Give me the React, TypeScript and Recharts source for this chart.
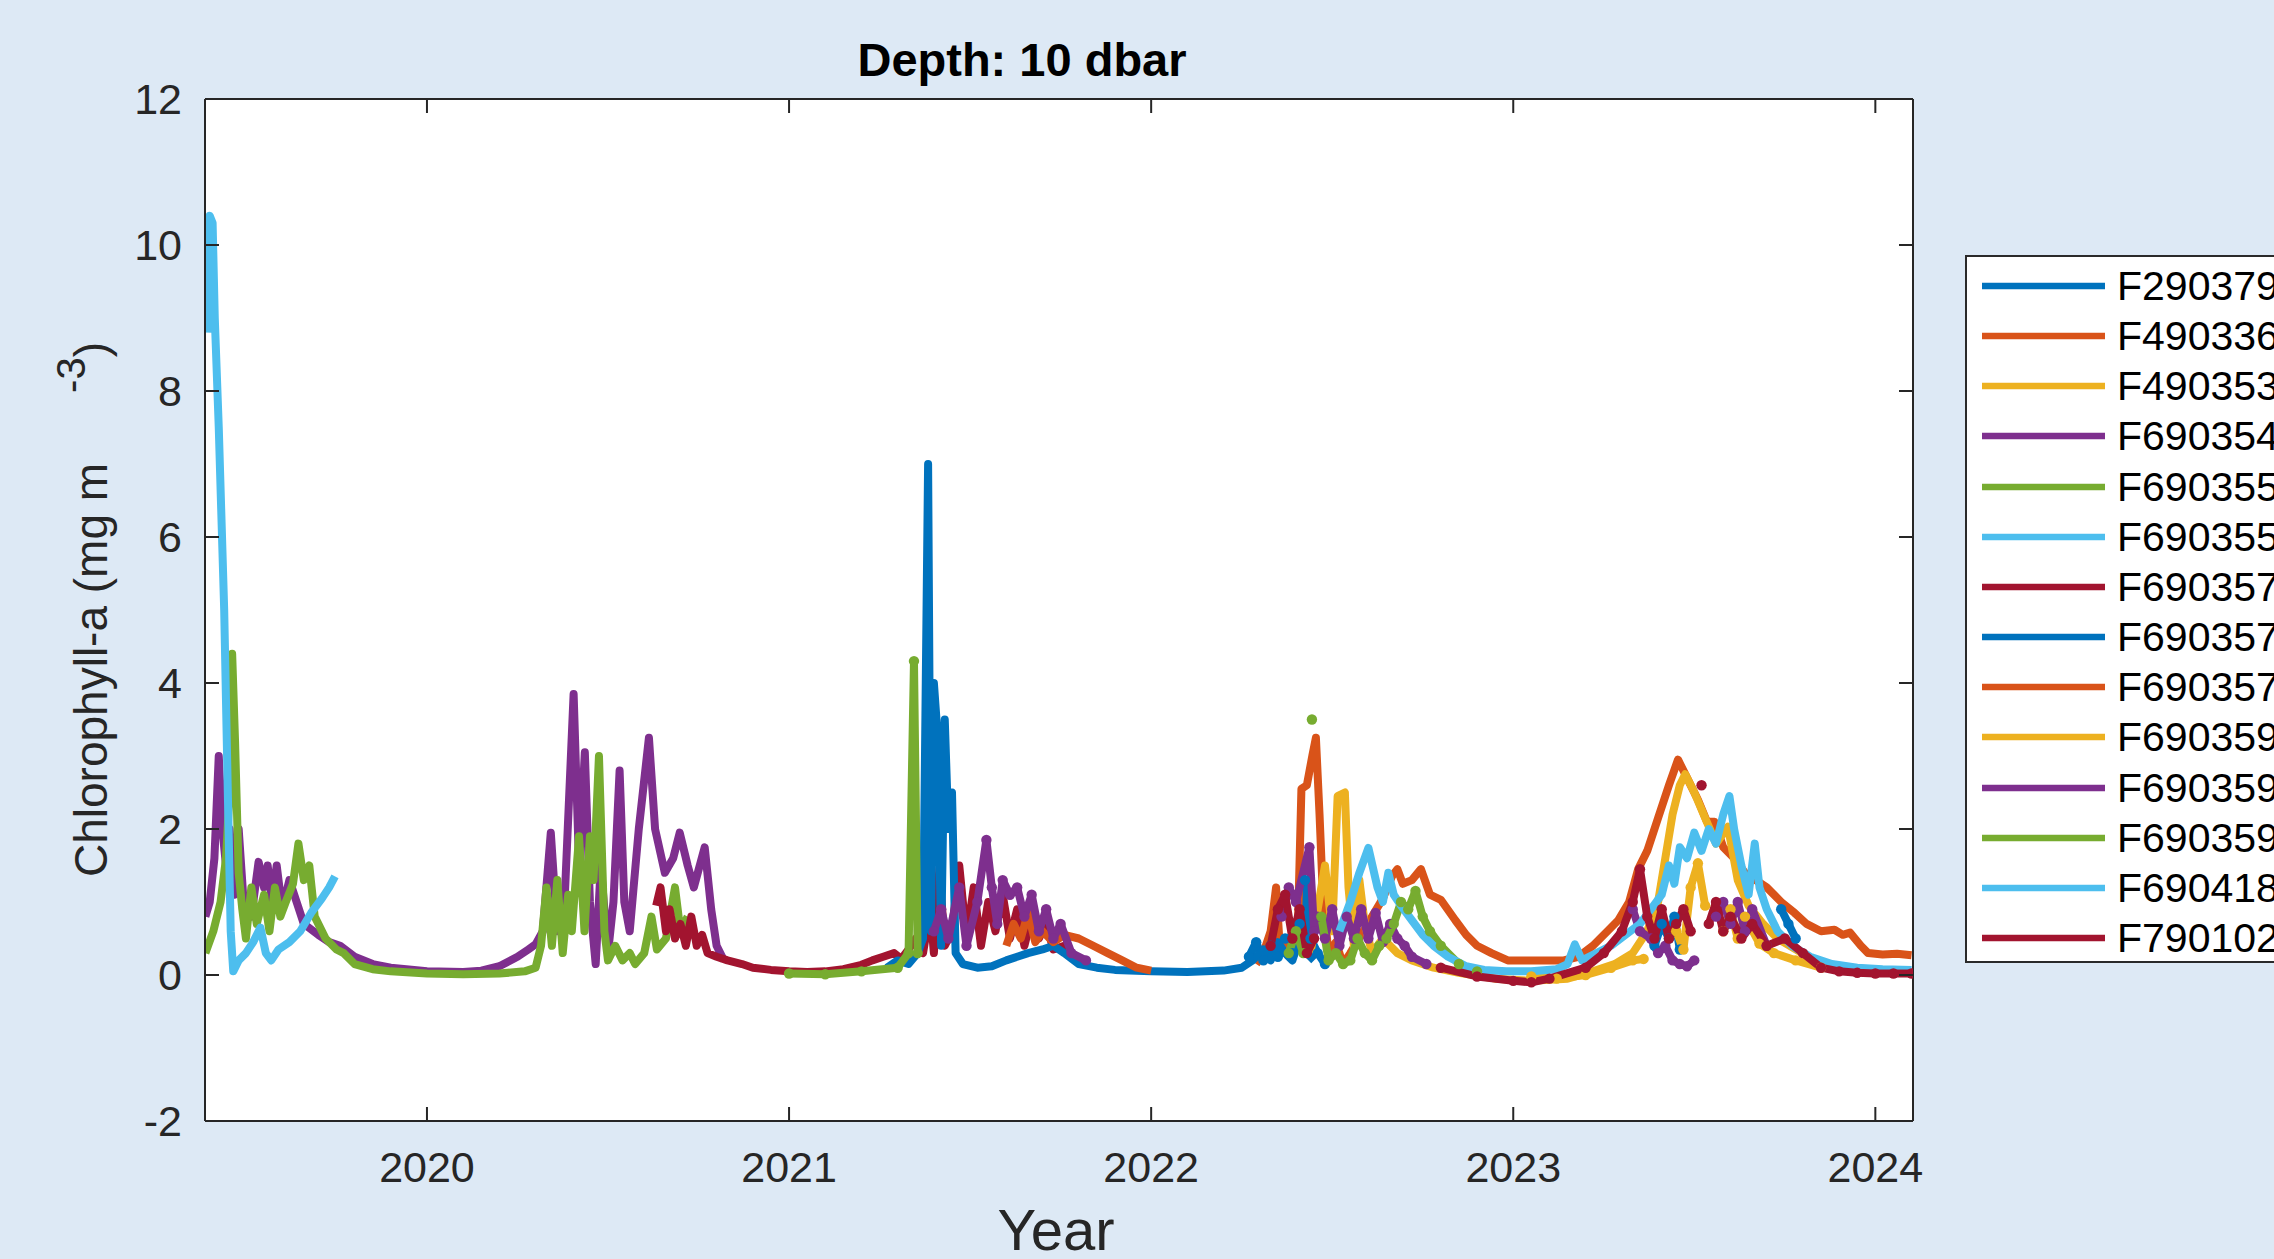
import React from 'react';
import { LineChart, Line, XAxis, YAxis, CartesianGrid, Legend } from 'recharts';

type P = [number, number | null];

const X_DOMAIN: [number, number] = [2019.387, 2024.104];
const Y_DOMAIN: [number, number] = [-2, 12];
const X_TICKS = [2020, 2021, 2022, 2023, 2024];
const Y_TICKS = [-2, 0, 2, 4, 6, 8, 10, 12];

const FLOAT_IDS = [
  'F2903794', 'F4903365', 'F4903532', 'F6903549', 'F6903550', 'F6903551', 'F6903574',
  'F6903575', 'F6903576', 'F6903590', 'F6903591', 'F6903592', 'F6904185', 'F7901028',
];
const FLOAT_COLORS = [
  '#0072BD', '#D95319', '#EDB120', '#7E2F8E', '#77AC30', '#4DBEEE', '#A2142F',
  '#0072BD', '#D95319', '#EDB120', '#7E2F8E', '#77AC30', '#4DBEEE', '#A2142F',
];
const DOT_FLOATS = ['F2903794', 'F6903590', 'F6903591', 'F6903592', 'F7901028'];

const f2903794: P[] = [[2022.27,0.25],[2022.29,0.45],[2022.31,0.2],[2022.33,0.4],[2022.35,0.25],[2022.37,0.5],[2022.39,0.3],[2022.41,0.7],[2022.425,1.3],[2022.44,0.5],[2022.46,0.3],[2022.48,0.15],[2022.5,null],[2023.39,0.4],[2023.41,0.7],[2023.43,0.5],[2023.445,0.8],[2023.46,0.35],[2023.48,null],[2023.74,0.9],[2023.76,0.7],[2023.78,0.5]];
const f4903365: P[] = [[2022.29,0.15],[2022.31,0.3],[2022.33,0.6],[2022.345,1.2],[2022.355,0.4],[2022.37,0.5],[2022.39,0.25],[2022.405,0.6],[2022.415,2.55],[2022.43,2.6],[2022.445,3.0],[2022.455,3.25],[2022.465,2.2],[2022.475,1.0],[2022.49,0.3],[2022.51,0.45],[2022.53,0.15],[2022.55,0.3],[2022.58,0.55],[2022.61,0.8],[2022.64,1.05],[2022.665,1.35],[2022.68,1.45],[2022.695,1.25],[2022.72,1.3],[2022.745,1.45],[2022.77,1.1],[2022.8,1.03],[2022.84,0.75],[2022.87,0.55],[2022.9,0.4],[2022.94,0.3],[2022.985,0.2],[2023.05,0.2],[2023.1,0.2],[2023.14,0.2],[2023.18,0.25],[2023.22,0.4],[2023.26,0.6],[2023.29,0.75],[2023.32,1.0],[2023.345,1.45],[2023.37,1.7],[2023.4,2.15],[2023.43,2.6],[2023.455,2.95],[2023.48,2.7],[2023.51,2.4],[2023.535,2.1],[2023.556,2.1],[2023.58,1.75],[2023.61,1.6],[2023.64,1.4],[2023.67,1.3],[2023.7,1.2],[2023.74,1.0],[2023.777,0.85],[2023.81,0.7],[2023.85,0.6],[2023.887,0.62],[2023.91,0.55],[2023.93,0.58],[2023.96,0.4],[2023.98,0.3],[2024.02,0.28],[2024.06,0.29],[2024.1,0.27]];
const f4903532: P[] = [[2022.44,0.3],[2022.46,0.9],[2022.48,1.5],[2022.5,0.6],[2022.515,2.45],[2022.535,2.5],[2022.545,1.2],[2022.56,0.4],[2022.575,1.3],[2022.59,0.7],[2022.61,0.3],[2022.64,0.5],[2022.68,0.3],[2022.72,0.2],[2022.78,0.1],[2022.85,0.03],[2022.95,-0.05],[2023.05,-0.08],[2023.15,-0.05],[2023.22,0.05],[2023.28,0.15],[2023.33,0.3],[2023.37,0.6],[2023.4,1.0],[2023.42,1.6],[2023.44,2.2],[2023.46,2.6],[2023.475,2.75],[2023.5,2.5],[2023.53,2.15],[2023.56,1.8],[2023.593,2.03],[2023.62,1.3],[2023.65,0.95],[2023.69,0.7],[2023.73,0.5],[2023.78,0.35],[2023.83,0.2],[2023.88,0.1],[2023.94,0.05],[2024.0,0.03]];
const f6903549: P[] = [[2019.388,0.8],[2019.4,1.0],[2019.413,1.6],[2019.425,3.0],[2019.435,2.0],[2019.445,1.5],[2019.455,2.0],[2019.468,1.1],[2019.48,2.0],[2019.495,0.9],[2019.515,0.8],[2019.535,1.55],[2019.55,1.2],[2019.56,1.5],[2019.572,1.0],[2019.585,1.5],[2019.6,0.9],[2019.62,1.3],[2019.64,1.0],[2019.66,0.7],[2019.7,0.55],[2019.73,0.45],[2019.76,0.4],[2019.8,0.25],[2019.85,0.15],[2019.9,0.1],[2020.0,0.05],[2020.1,0.04],[2020.15,0.06],[2020.2,0.12],[2020.25,0.25],[2020.28,0.35],[2020.3,0.42],[2020.32,0.6],[2020.342,1.95],[2020.36,0.6],[2020.38,1.0],[2020.405,3.85],[2020.42,1.5],[2020.436,3.05],[2020.45,1.0],[2020.466,0.15],[2020.48,1.5],[2020.5,0.3],[2020.515,1.0],[2020.532,2.8],[2020.545,1.0],[2020.56,0.6],[2020.585,2.0],[2020.613,3.25],[2020.63,2.0],[2020.657,1.4],[2020.68,1.6],[2020.698,1.95],[2020.72,1.5],[2020.737,1.2],[2020.767,1.75],[2020.785,0.9],[2020.8,0.4],[2020.82,0.2]];
const f6903550: P[] = [[2019.388,0.3],[2019.41,0.6],[2019.43,1.0],[2019.445,1.6],[2019.455,2.5],[2019.462,4.4],[2019.47,3.2],[2019.48,1.4],[2019.49,0.9],[2019.5,0.5],[2019.515,1.2],[2019.53,0.7],[2019.55,1.1],[2019.565,0.6],[2019.58,1.2],[2019.595,0.8],[2019.61,1.0],[2019.63,1.25],[2019.645,1.8],[2019.66,1.3],[2019.675,1.5],[2019.69,0.8],[2019.72,0.5],[2019.75,0.35],[2019.77,0.3],[2019.8,0.15],[2019.85,0.08],[2019.9,0.05],[2020.0,0.02],[2020.1,0.01],[2020.2,0.02],[2020.27,0.05],[2020.3,0.1],[2020.315,0.4],[2020.33,1.2],[2020.345,0.4],[2020.36,1.3],[2020.375,0.3],[2020.39,1.1],[2020.4,0.6],[2020.42,1.9],[2020.435,0.6],[2020.45,1.9],[2020.46,1.3],[2020.475,3.0],[2020.49,0.6],[2020.5,0.2],[2020.52,0.4],[2020.54,0.2],[2020.56,0.3],[2020.575,0.15],[2020.6,0.3],[2020.62,0.8],[2020.635,0.35],[2020.66,0.5],[2020.685,1.2],[2020.7,0.6],[2020.72,0.8]];
const f6903551: P[] = [[2019.395,8.8],[2019.4,10.4],[2019.408,10.3],[2019.414,9.0],[2019.425,7.5],[2019.44,5.0],[2019.45,2.5],[2019.458,0.6],[2019.465,0.05],[2019.48,0.2],[2019.5,0.3],[2019.52,0.45],[2019.54,0.65],[2019.555,0.3],[2019.57,0.2],[2019.59,0.35],[2019.62,0.45],[2019.65,0.6],[2019.68,0.85],[2019.71,1.05],[2019.73,1.2],[2019.746,1.35]];
const f6903574: P[] = [[2020.633,0.95],[2020.645,1.2],[2020.66,0.6],[2020.67,0.9],[2020.685,0.5],[2020.7,0.7],[2020.715,0.4],[2020.73,0.8],[2020.745,0.4],[2020.76,0.55],[2020.775,0.3],[2020.8,0.25],[2020.83,0.2],[2020.87,0.15],[2020.9,0.1],[2020.95,0.07],[2021.0,0.05],[2021.05,0.04],[2021.1,0.05],[2021.15,0.08],[2021.2,0.14],[2021.23,0.2],[2021.26,0.25],[2021.29,0.3],[2021.31,0.22],[2021.33,0.35],[2021.35,0.5],[2021.37,0.3],[2021.39,0.9],[2021.4,0.3],[2021.415,1.45],[2021.43,0.4],[2021.45,0.6],[2021.47,1.5],[2021.49,0.5],[2021.51,1.2],[2021.53,0.4],[2021.55,1.0],[2021.57,0.6],[2021.59,1.1],[2021.61,0.5],[2021.63,0.9],[2021.65,0.4],[2021.67,0.8],[2021.69,0.5],[2021.71,0.7],[2021.73,0.35],[2021.76,0.4],[2021.8,0.2]];
const f6903575: P[] = [[2021.27,0.1],[2021.3,0.2],[2021.33,0.15],[2021.355,0.3],[2021.37,0.5],[2021.384,7.0],[2021.392,0.6],[2021.4,4.0],[2021.41,3.3],[2021.42,0.4],[2021.43,3.5],[2021.44,2.0],[2021.45,2.5],[2021.46,0.3],[2021.48,0.15],[2021.52,0.1],[2021.56,0.12],[2021.6,0.2],[2021.63,0.25],[2021.66,0.3],[2021.7,0.35],[2021.73,0.4],[2021.76,0.3],[2021.8,0.15],[2021.85,0.1],[2021.9,0.07],[2022.0,0.05],[2022.1,0.04],[2022.2,0.06],[2022.25,0.1],[2022.28,0.2],[2022.31,0.35],[2022.33,0.2],[2022.35,0.45],[2022.37,0.3],[2022.39,0.2],[2022.41,0.5],[2022.43,0.3],[2022.45,0.2]];
const f6903576: P[] = [[2021.6,0.4],[2021.62,0.7],[2021.64,0.5],[2021.66,0.85],[2021.68,0.45],[2021.7,0.6],[2021.73,0.45],[2021.76,0.55],[2021.8,0.5],[2021.84,0.4],[2021.88,0.3],[2021.92,0.2],[2021.96,0.1],[2022.0,0.06]];
const f6903590: P[] = [[2023.05,-0.02],[2023.12,-0.05],[2023.2,0.0],[2023.27,0.1],[2023.33,0.2],[2023.36,0.22],[2023.38,null],[2023.45,0.6],[2023.47,0.35],[2023.49,1.2],[2023.51,1.53],[2023.53,0.95],[2023.55,null],[2023.58,0.6],[2023.6,0.9],[2023.62,0.5],[2023.64,0.8],[2023.68,0.43],[2023.72,0.3],[2023.78,0.2],[2023.85,0.1]];
const f6903591: P[] = [[2021.4,0.6],[2021.42,0.9],[2021.44,0.5],[2021.47,1.2],[2021.49,0.4],[2021.52,1.0],[2021.545,1.85],[2021.56,1.2],[2021.575,0.7],[2021.59,1.3],[2021.61,1.1],[2021.63,1.2],[2021.65,0.8],[2021.67,1.1],[2021.69,0.6],[2021.71,0.9],[2021.73,0.5],[2021.75,0.7],[2021.78,0.3],[2021.82,0.2],[2021.9,null],[2022.36,0.8],[2022.38,1.2],[2022.4,1.0],[2022.437,1.75],[2022.45,0.6],[2022.46,0.8],[2022.48,0.5],[2022.5,0.9],[2022.52,0.4],[2022.54,0.8],[2022.56,0.5],[2022.58,0.9],[2022.6,0.5],[2022.62,0.85],[2022.64,0.45],[2022.66,0.7],[2022.68,0.5],[2022.7,0.4],[2022.72,0.25],[2022.76,0.15],[2022.9,null],[2023.33,0.9],[2023.35,0.6],[2023.38,0.5],[2023.4,0.3],[2023.42,0.4],[2023.44,0.2],[2023.46,0.15],[2023.48,0.12],[2023.5,0.2],[2023.53,null],[2023.56,0.8],[2023.58,1.0],[2023.6,0.7],[2023.62,1.0],[2023.64,0.6],[2023.66,0.9],[2023.7,0.4]];
const f6903592: P[] = [[2021.0,0.02],[2021.1,0.01],[2021.2,0.05],[2021.3,0.1],[2021.33,0.3],[2021.345,4.3],[2021.355,0.3],[2021.5,null],[2022.38,0.3],[2022.4,0.6],[2022.42,0.3],[2022.43,null],[2022.444,3.5],[2022.455,null],[2022.47,0.8],[2022.49,0.2],[2022.51,0.3],[2022.53,0.15],[2022.55,0.2],[2022.57,0.5],[2022.59,0.3],[2022.61,0.2],[2022.63,0.4],[2022.65,0.5],[2022.67,0.7],[2022.69,1.0],[2022.71,0.9],[2022.73,1.15],[2022.75,0.8],[2022.77,0.6],[2022.8,0.4],[2022.85,0.15],[2022.9,0.05]];
const f6904185: P[] = [[2022.52,0.6],[2022.55,1.0],[2022.575,1.4],[2022.6,1.74],[2022.625,1.2],[2022.64,1.0],[2022.655,1.4],[2022.67,1.1],[2022.69,0.95],[2022.72,0.75],[2022.75,0.55],[2022.78,0.4],[2022.82,0.25],[2022.87,0.12],[2022.92,0.07],[2022.98,0.05],[2023.05,0.05],[2023.12,0.08],[2023.15,0.15],[2023.17,0.42],[2023.19,0.2],[2023.23,0.3],[2023.27,0.4],[2023.31,0.55],[2023.35,0.7],[2023.38,0.9],[2023.41,1.1],[2023.43,1.5],[2023.445,1.25],[2023.46,1.75],[2023.48,1.6],[2023.5,1.95],[2023.52,1.7],[2023.54,2.0],[2023.56,1.8],[2023.58,2.2],[2023.597,2.45],[2023.61,2.0],[2023.63,1.5],[2023.65,1.1],[2023.667,1.8],[2023.68,1.2],[2023.7,0.9],[2023.73,0.6],[2023.77,0.4],[2023.82,0.25],[2023.88,0.15],[2023.95,0.1],[2024.02,0.08],[2024.1,0.07]];
const f7901028: P[] = [[2022.33,0.4],[2022.35,0.9],[2022.37,1.1],[2022.39,0.5],[2022.41,0.9],[2022.43,0.3],[2022.45,0.5],[2022.6,null],[2022.8,0.1],[2022.9,-0.02],[2023.0,-0.08],[2023.05,-0.1],[2023.1,-0.05],[2023.2,0.1],[2023.25,0.3],[2023.3,0.6],[2023.33,1.0],[2023.35,1.45],[2023.37,0.8],[2023.39,0.5],[2023.41,0.9],[2023.43,0.5],[2023.45,0.7],[2023.47,0.9],[2023.49,0.6],[2023.505,null],[2023.52,2.6],[2023.535,null],[2023.54,0.7],[2023.56,1.0],[2023.58,0.6],[2023.6,0.8],[2023.63,0.5],[2023.66,0.7],[2023.7,0.4],[2023.75,0.5],[2023.8,0.3],[2023.85,0.1],[2023.9,0.05],[2023.95,0.03],[2024.0,0.02],[2024.05,0.02],[2024.1,0.02]];

const FLOAT_VALUES: P[][] = [
  f2903794, f4903365, f4903532, f6903549, f6903550, f6903551, f6903574,
  f6903575, f6903576, f6903590, f6903591, f6903592, f6904185, f7901028,
];

const SERIES = FLOAT_IDS.map((id, i) => ({
  id,
  color: FLOAT_COLORS[i],
  dots: DOT_FLOATS.includes(id),
  data: FLOAT_VALUES[i].map(([t, v]) => ({ t, v })),
}));

const FONT = '"Liberation Sans", Arial, Helvetica, sans-serif';
const AXIS = '#262626';
const TICK_LEN = 14;
const LINE_W = 8;

const BottomTick = (p: any) => (
  <g>
    <line x1={p.x} y1={p.y} x2={p.x} y2={p.y - TICK_LEN} stroke={AXIS} strokeWidth={2} />
    <text x={p.x} y={p.y + 61} textAnchor="middle" fontSize={43} fontFamily={FONT} fill={AXIS}>
      {p.payload.value}
    </text>
  </g>
);
const TopTick = (p: any) => (
  <line x1={p.x} y1={p.y} x2={p.x} y2={p.y + TICK_LEN} stroke={AXIS} strokeWidth={2} />
);
const LeftTick = (p: any) => (
  <g>
    <line x1={p.x} y1={p.y} x2={p.x + TICK_LEN} y2={p.y} stroke={AXIS} strokeWidth={2} />
    <text x={p.x - 23} y={p.y + 15} textAnchor="end" fontSize={43} fontFamily={FONT} fill={AXIS}>
      {p.payload.value}
    </text>
  </g>
);
const RightTick = (p: any) => (
  <line x1={p.x} y1={p.y} x2={p.x - TICK_LEN} y2={p.y} stroke={AXIS} strokeWidth={2} />
);

const LegendBox = () => (
  <div
    style={{
      width: 420,
      height: 708,
      background: '#ffffff',
      border: '2px solid #2a2a2a',
      boxSizing: 'border-box',
      position: 'relative',
      fontFamily: FONT,
    }}
  >
    {SERIES.map((s, i) => (
      <div
        key={s.id}
        style={{ position: 'absolute', left: 0, top: 29 + i * 50.15 - 25, height: 50, width: 420 }}
      >
        <svg width={140} height={50} style={{ position: 'absolute', left: 0, top: 0 }}>
          <line x1={15} y1={25} x2={138} y2={25} stroke={s.color} strokeWidth={6.5} />
        </svg>
        <span
          style={{
            position: 'absolute',
            left: 150,
            top: 0,
            lineHeight: '50px',
            fontSize: 41,
            color: '#000',
            whiteSpace: 'nowrap',
          }}
        >
          {s.id}
        </span>
      </div>
    ))}
  </div>
);

export default function App() {
  return (
    <div
      style={{
        position: 'absolute',
        left: 0,
        top: 0,
        width: 2274,
        height: 1259,
        background: '#dde9f5',
        overflow: 'hidden',
        fontFamily: FONT,
      }}
    >
      <LineChart width={2274} height={1259} margin={{ top: 98, right: 360, bottom: 0, left: 0 }}>
        <CartesianGrid xAxisId="b" yAxisId="l" horizontal={false} vertical={false} fill="#ffffff" fillOpacity={1} />
        <XAxis
          xAxisId="b"
          dataKey="t"
          type="number"
          domain={X_DOMAIN}
          ticks={X_TICKS}
          allowDataOverflow
          height={138}
          tickSize={0}
          tickMargin={0}
          tickLine={false}
          axisLine={{ stroke: AXIS, strokeWidth: 2 }}
          tick={BottomTick}
          interval={0}
        />
        <XAxis
          xAxisId="t"
          orientation="top"
          dataKey="t"
          type="number"
          domain={X_DOMAIN}
          ticks={X_TICKS}
          allowDataOverflow
          height={1}
          tickSize={0}
          tickMargin={0}
          tickLine={false}
          axisLine={{ stroke: AXIS, strokeWidth: 2 }}
          tick={TopTick}
          interval={0}
        />
        <YAxis
          yAxisId="l"
          type="number"
          domain={Y_DOMAIN}
          ticks={Y_TICKS}
          allowDataOverflow
          width={205}
          tickSize={0}
          tickMargin={0}
          tickLine={false}
          axisLine={{ stroke: AXIS, strokeWidth: 2 }}
          tick={LeftTick}
          interval={0}
        />
        <YAxis
          yAxisId="r"
          orientation="right"
          type="number"
          domain={Y_DOMAIN}
          ticks={Y_TICKS}
          allowDataOverflow
          width={1}
          tickSize={0}
          tickMargin={0}
          tickLine={false}
          axisLine={{ stroke: AXIS, strokeWidth: 2 }}
          tick={RightTick}
          interval={0}
        />
        {SERIES.map((s) => (
          <Line
            key={s.id}
            xAxisId="b"
            yAxisId="l"
            data={s.data}
            dataKey="v"
            name={s.id}
            type="linear"
            stroke={s.color}
            strokeWidth={LINE_W}
            strokeLinejoin="round"
            dot={s.dots ? { r: 5.2, fill: s.color, stroke: 'none' } : false}
            activeDot={false}
            connectNulls={false}
            isAnimationActive={false}
          />
        ))}
        <Legend
          layout="vertical"
          align="center"
          verticalAlign="middle"
          wrapperStyle={{ left: 1965, top: 255, right: 'auto', bottom: 'auto', width: 420, height: 708 }}
          content={() => <LegendBox />}
        />
      </LineChart>
      <svg
        width={2274}
        height={1259}
        style={{ position: 'absolute', left: 0, top: 0, pointerEvents: 'none' }}
      >
        <text x={1022} y={76} textAnchor="middle" fontSize={47} fontWeight="bold" fontFamily={FONT} fill="#000">
          Depth: 10 dbar
        </text>
        <text x={1056} y={1250} textAnchor="middle" fontSize={58} fontFamily={FONT} fill={AXIS}>
          Year
        </text>
        <text
          transform="translate(107,877) rotate(-90)"
          x={0}
          y={0}
          textAnchor="start"
          fontSize={46}
          fontFamily={FONT}
          fill={AXIS}
        >
          Chlorophyll-a (mg m
          <tspan dx={70} dy={-22} fontSize={40}>-3</tspan>
          <tspan dy={22} fontSize={46}>)</tspan>
        </text>
      </svg>
    </div>
  );
}
